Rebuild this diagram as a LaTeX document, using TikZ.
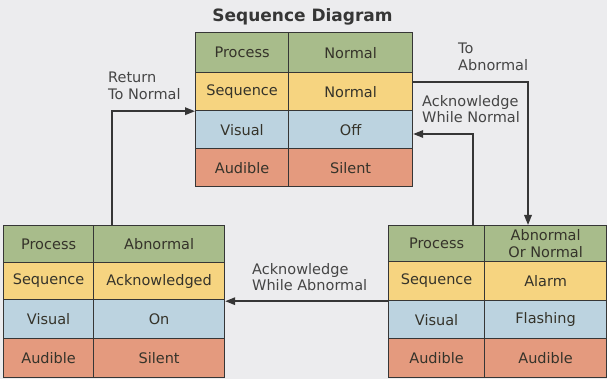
\documentclass[tikz,border=0pt]{standalone}
\usepackage{fontspec}
\setmainfont{DejaVu Sans}
\usetikzlibrary{arrows.meta}
\definecolor{bg}{HTML}{ECECEE}
\definecolor{pgreen}{HTML}{A8BC8B}
\definecolor{pyellow}{HTML}{F6D480}
\definecolor{pblue}{HTML}{BCD3E0}
\definecolor{pred}{HTML}{E49A7E}
\definecolor{linec}{HTML}{363636}
\definecolor{txt}{HTML}{35332A}
\definecolor{lbl}{HTML}{454545}
\tikzset{
  cell/.style={draw=linec, line width=1.2pt, rectangle, inner sep=0pt, anchor=north west,
    text=txt, font=\fontsize{14.5}{16.5}\selectfont, align=center},
  arr/.style={draw=linec, line width=1.7pt, -{Triangle[length=10pt,width=7.5pt]}},
  lab/.style={anchor=north west, inner sep=0pt, text=lbl, align=left,
    font=\fontsize{14.5}{16.5}\selectfont},
}
\newcommand\cellat[7]{\node[cell, fill=#6, minimum width=#4pt, minimum height=#5pt] (#1) at (#2,#3) {#7};}
\begin{document}
\begin{tikzpicture}[x=1pt,y=-1pt]
\fill[bg] (0,0) rectangle (607,379);
\useasboundingbox (0,0) rectangle (607,379);
\node[font=\bfseries\fontsize{17}{20}\selectfont, text=linec, anchor=base] (title) at (302.5,22) {Sequence Diagram};
% top table
\cellat{Tpl}{195}{32}{93}{40}{pgreen}{Process}
\cellat{Tpv}{288}{32}{124}{40}{pgreen}{Normal}
\cellat{Tsl}{195}{72}{93}{38}{pyellow}{Sequence}
\cellat{Tsv}{288}{72}{124}{38}{pyellow}{Normal}
\cellat{Tvl}{195}{110}{93}{38}{pblue}{Visual}
\cellat{Tvv}{288}{110}{124}{38}{pblue}{Off}
\cellat{Tal}{195}{148}{93}{38}{pred}{Audible}
\cellat{Tav}{288}{148}{124}{38}{pred}{Silent}
% left table
\cellat{Lpl}{3}{225}{90}{37}{pgreen}{Process}
\cellat{Lpv}{93}{225}{131}{37}{pgreen}{Abnormal}
\cellat{Lsl}{3}{262}{90}{37}{pyellow}{Sequence}
\cellat{Lsv}{93}{262}{131}{37}{pyellow}{Acknowledged}
\cellat{Lvl}{3}{299}{90}{39}{pblue}{Visual}
\cellat{Lvv}{93}{299}{131}{39}{pblue}{On}
\cellat{Lal}{3}{338}{90}{39}{pred}{Audible}
\cellat{Lav}{93}{338}{131}{39}{pred}{Silent}
% right table
\cellat{Rpl}{388}{225}{96}{36}{pgreen}{Process}
\cellat{Rpv}{484}{225}{122}{36}{pgreen}{Abnormal\\Or Normal}
\cellat{Rsl}{388}{261}{96}{39}{pyellow}{Sequence}
\cellat{Rsv}{484}{261}{122}{39}{pyellow}{Alarm}
\cellat{Rvl}{388}{300}{96}{38}{pblue}{Visual}
\cellat{Rvv}{484}{300}{122}{38}{pblue}{Flashing}
\cellat{Ral}{388}{338}{96}{39}{pred}{Audible}
\cellat{Rav}{484}{338}{122}{39}{pred}{Audible}
% connector bend points
\coordinate (rtn) at (112,0);
\coordinate (tab) at (528,82);
\coordinate (awn) at (473,134);
% connectors
\draw[arr] (Lpl.north -| rtn) |- (Tsl.south west);
\draw[arr] (tab -| Tsv.east) -| (Rpv.north -| tab);
\draw[arr] (Rpl.north -| awn) |- (awn -| Tvv.east);
\draw[arr] (Rsl.south west) -- (Rsl.south west -| Lsv.east);
% labels
\node[lab] (l1) at (108,72) {Return\\To Normal};
\node[lab] (l2) at (458,43) {To\\Abnormal};
\node[lab] (l3) at (422,95) {Acknowledge\\While Normal};
\node[lab] (l4) at (252,263) {Acknowledge\\While Abnormal};
\end{tikzpicture}
\end{document}
